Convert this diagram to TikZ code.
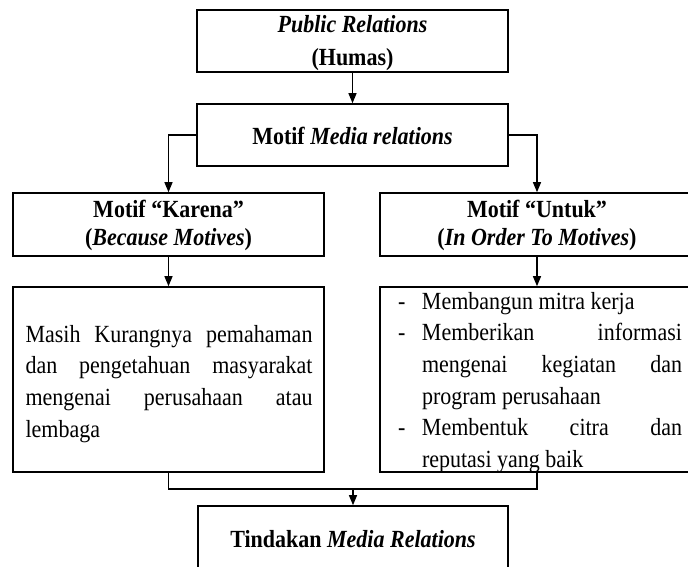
\documentclass[tikz,border=0pt]{standalone}
\usepackage{fontspec}
\usepackage{graphicx}
\setmainfont{Liberation Serif}
\usetikzlibrary{arrows.meta}
\newcommand{\bodyfont}{\fontsize{22}{31.7}\selectfont}
\newcommand{\dashitem}{\makebox[27pt][l]{\hspace{3pt}-}}
\newcommand{\vs}[1]{\scalebox{1}[1.12]{#1}}
\begin{document}
\begin{tikzpicture}[x=1pt,y=-1pt,
  bx/.style={draw, line width=1.6pt, inner sep=0pt, minimum width=311pt, minimum height=62pt},
  pbox/.style={draw, line width=1.6pt, inner sep=0pt, minimum width=311pt, minimum height=185pt},
  ttl/.style={anchor=base, inner sep=0pt},
  conn/.style={line width=1.3pt},
  arr/.style={conn, -{Triangle[length=10pt,width=8pt]}}]
\useasboundingbox (0,0) rectangle (688,567);

% boxes
\node[bx] (pr) at (352.5,41) {};
\node[bx] (mr) at (352.5,135) {};
\node[bx, minimum height=63pt] (km) at (168.5,224.5) {};
\node[bx, minimum height=63pt, minimum width=314pt] (um) at (537,224.5) {};
\node[pbox] (kt) at (168.5,379.5) {};
\node[pbox, minimum width=314pt] (ut) at (537,379.5) {};
\node[bx, minimum height=63pt, minimum width=310pt] (td) at (353,537.5) {};

% texts
\node[ttl] (prT) at (352.5,33) {\parbox[t]{300pt}{\centering\fontsize{22}{32.5}\selectfont\bfseries
  \vs{\textit{Public Relations}}\\\vs{(Humas)}}};
\node[ttl] (mrT) at (352.5,145) {\fontsize{22}{30}\selectfont\bfseries \vs{Motif \textit{Media relations}}};
\node[ttl] (kmT) at (168.5,217) {\parbox[t]{300pt}{\centering\fontsize{22}{28.5}\selectfont\bfseries
  \vs{Motif “Karena”}\\\vs{(\textit{Because Motives})}}};
\node[ttl] (umT) at (537,217) {\parbox[t]{300pt}{\centering\fontsize{22}{28.5}\selectfont\bfseries
  \vs{Motif “Untuk”}\\\vs{(\textit{In Order To Motives})}}};
\node[ttl] (ktT) at (169,342) {\parbox[t]{287pt}{\bodyfont
  \vs{\makebox[287pt][s]{Masih Kurangnya pemahaman}}\\
  \vs{\makebox[287pt][s]{dan pengetahuan masyarakat}}\\
  \vs{\makebox[287pt][s]{mengenai perusahaan atau}}\\
  \vs{lembaga}}};
\node[ttl] (utT) at (538.5,309) {\parbox[t]{287pt}{\bodyfont
  \vs{\dashitem Membangun mitra kerja}\\
  \vs{\dashitem\makebox[260pt][s]{Memberikan informasi}}\\
  \vs{\hspace*{27pt}\makebox[260pt][s]{mengenai kegiatan dan}}\\
  \vs{\hspace*{27pt}program perusahaan}\\
  \vs{\dashitem\makebox[260pt][s]{Membentuk citra dan}}\\
  \vs{\hspace*{27pt}reputasi yang baik}}};
\node[ttl] (tdT) at (353,547) {\fontsize{22}{30}\selectfont\bfseries \vs{Tindakan \textit{Media Relations}}};

% connectors
\draw[arr] (pr) -- (mr);
\draw[arr] (mr.west) -| (km.north);
\draw[arr] (mr.east) -| (um.north);
\draw[arr] (km) -- (kt);
\draw[arr] (um) -- (ut);
\coordinate (jn) at (353,489);
\draw[conn] (kt.south) |- (jn) -| (ut.south);
\draw[arr] (jn) -- (td);
\end{tikzpicture}
\end{document}
